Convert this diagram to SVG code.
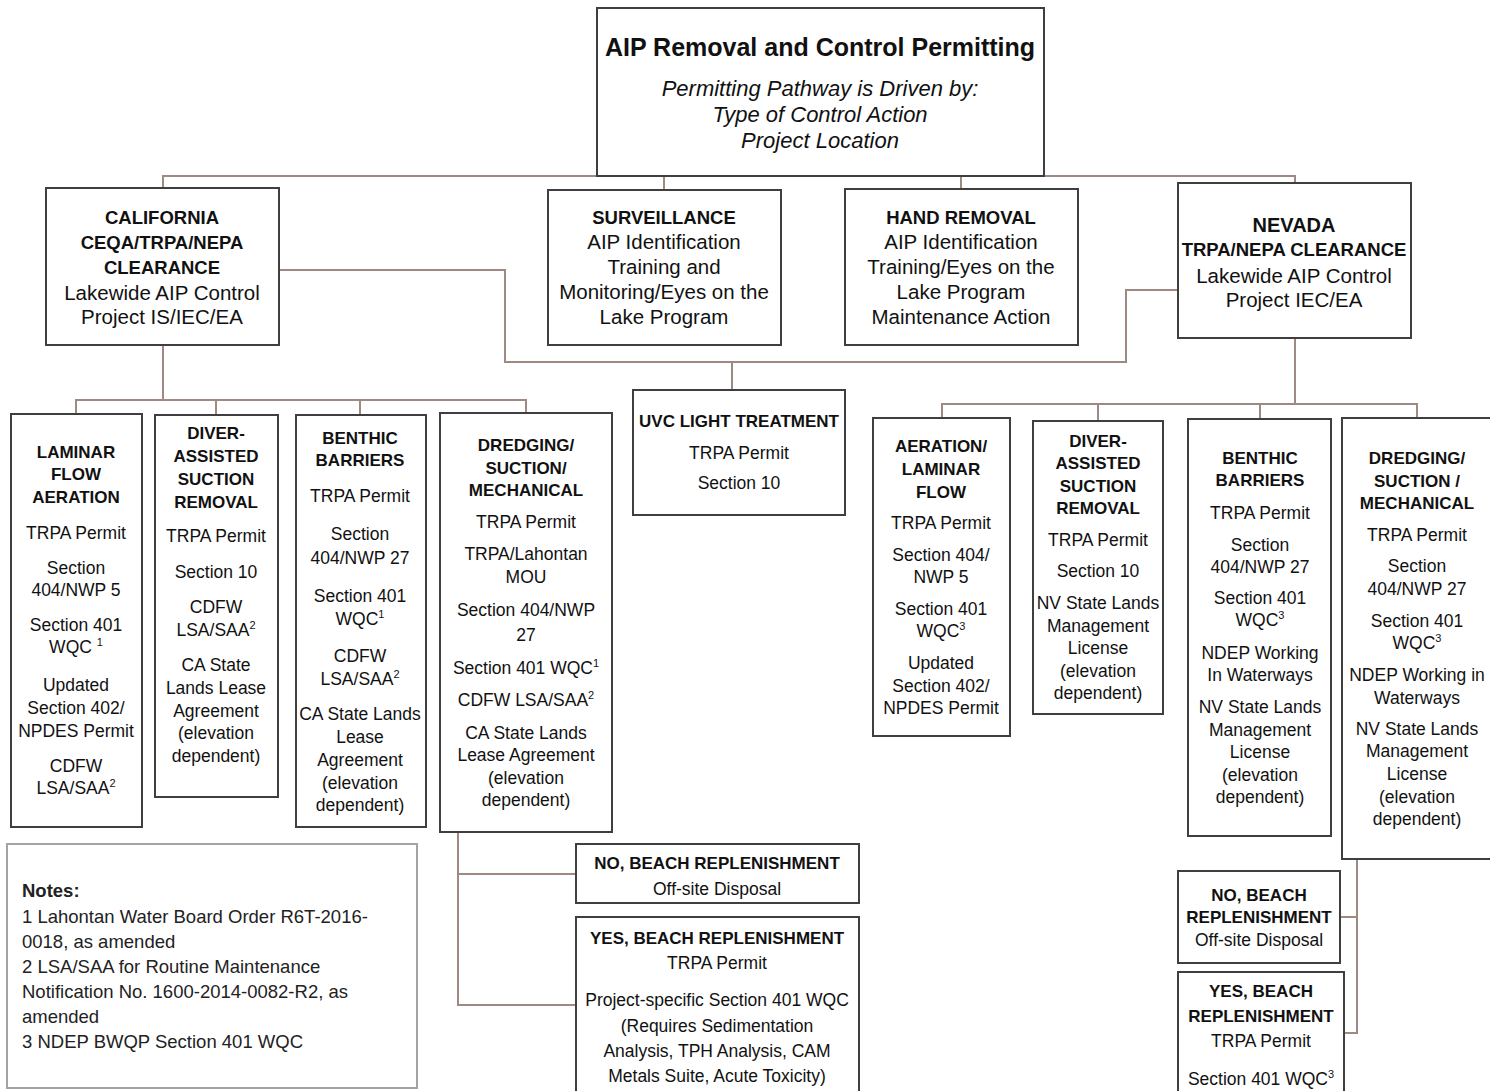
<svg xmlns="http://www.w3.org/2000/svg" width="1490" height="1091" viewBox="0 0 1490 1091">
<style>
.box{fill:#fff;stroke:#3f3f3f;stroke-width:2}
.note{fill:#fff;stroke:#a3a3a3;stroke-width:2}
.conn{fill:none;stroke:#9e8a82;stroke-width:2}
text{font-family:"Liberation Sans",Arial,sans-serif;fill:#111;text-anchor:middle}
.title{font-size:25px;font-weight:bold}
.it{font-size:22px;font-style:italic}
.h2{font-size:18.5px;font-weight:bold}
.t2{font-size:20.5px}
.h3{font-size:17px;font-weight:bold}
.t3{font-size:17.5px}
.n{font-size:18.5px;text-anchor:start;fill:#222}
.sup{font-size:11px}
</style>
<g id="connectors">
<path class="conn" d="M163,189 V176 H1295 V183 M664,176 V190 M961,176 V189"/>
<path class="conn" d="M279,270 H505 V362 H1126 V290 H1178 M732,362 V390"/>
<path class="conn" d="M163,345 V400 M76,414 V400 H526 V413 M216,400 V415 M360,400 V415"/>
<path class="conn" d="M1295,338 V404 M942,418 V404 H1417 V418 M1098,404 V421 M1260,404 V419"/>
<path class="conn" d="M458,832 V1005 H576 M458,874 H576"/>
<path class="conn" d="M1357,859 V1033 H1344 M1357,917 H1340"/>
</g>
<g id="root">
<rect class="box" x="597" y="8" width="447" height="168"/>
<text class="title" x="820" y="56">AIP Removal and Control Permitting</text>
<text class="it" x="820" y="96">Permitting Pathway is Driven by:</text>
<text class="it" x="820" y="122">Type of Control Action</text>
<text class="it" x="820" y="148">Project Location</text>
</g>
<g id="california">
<rect class="box" x="46" y="188" width="233" height="157"/>
<text class="h2" x="162" y="224">CALIFORNIA</text>
<text class="h2" x="162" y="249">CEQA/TRPA/NEPA</text>
<text class="h2" x="162" y="274">CLEARANCE</text>
<text class="t2" x="162" y="300">Lakewide AIP Control</text>
<text class="t2" x="162" y="324">Project IS/IEC/EA</text>
</g>
<g id="surveillance">
<rect class="box" x="548" y="190" width="233" height="155"/>
<text class="h2" x="664" y="224">SURVEILLANCE</text>
<text class="t2" x="664" y="249">AIP Identification</text>
<text class="t2" x="664" y="274">Training and</text>
<text class="t2" x="664" y="299">Monitoring/Eyes on the</text>
<text class="t2" x="664" y="324">Lake Program</text>
</g>
<g id="hand-removal">
<rect class="box" x="845" y="189" width="233" height="156"/>
<text class="h2" x="961" y="224">HAND REMOVAL</text>
<text class="t2" x="961" y="249">AIP Identification</text>
<text class="t2" x="961" y="274">Training/Eyes on the</text>
<text class="t2" x="961" y="299">Lake Program</text>
<text class="t2" x="961" y="324">Maintenance Action</text>
</g>
<g id="nevada">
<rect class="box" x="1178" y="183" width="233" height="155"/>
<text class="h2" x="1294" y="232" style="font-size:20px">NEVADA</text>
<text class="h2" x="1294" y="256">TRPA/NEPA CLEARANCE</text>
<text class="t2" x="1294" y="283">Lakewide AIP Control</text>
<text class="t2" x="1294" y="307">Project IEC/EA</text>
</g>
<g id="uvc">
<rect class="box" x="633" y="390" width="212" height="125"/>
<text class="h3" x="739" y="427">UVC LIGHT TREATMENT</text>
<text class="t3" x="739" y="459">TRPA Permit</text>
<text class="t3" x="739" y="489">Section 10</text>
</g>
<g id="ca-laminar">
<rect class="box" x="11" y="414" width="131" height="413"/>
<text class="h3" x="76" y="458">LAMINAR</text>
<text class="h3" x="76" y="480">FLOW</text>
<text class="h3" x="76" y="503">AERATION</text>
<text class="t3" x="76" y="539">TRPA Permit</text>
<text class="t3" x="76" y="574">Section</text>
<text class="t3" x="76" y="596">404/NWP 5</text>
<text class="t3" x="76" y="631">Section 401</text>
<text class="t3" x="76" y="653">WQC <tspan class="sup" dy="-7">1</tspan></text>
<text class="t3" x="76" y="691">Updated</text>
<text class="t3" x="76" y="714">Section 402/</text>
<text class="t3" x="76" y="737">NPDES Permit</text>
<text class="t3" x="76" y="772">CDFW</text>
<text class="t3" x="76" y="794">LSA/SAA<tspan class="sup" dy="-7">2</tspan></text>
</g>
<g id="ca-diver">
<rect class="box" x="155" y="415" width="123" height="382"/>
<text class="h3" x="216" y="439">DIVER-</text>
<text class="h3" x="216" y="462">ASSISTED</text>
<text class="h3" x="216" y="485">SUCTION</text>
<text class="h3" x="216" y="508">REMOVAL</text>
<text class="t3" x="216" y="542">TRPA Permit</text>
<text class="t3" x="216" y="578">Section 10</text>
<text class="t3" x="216" y="613">CDFW</text>
<text class="t3" x="216" y="636">LSA/SAA<tspan class="sup" dy="-7">2</tspan></text>
<text class="t3" x="216" y="671">CA State</text>
<text class="t3" x="216" y="694">Lands Lease</text>
<text class="t3" x="216" y="717">Agreement</text>
<text class="t3" x="216" y="739">(elevation</text>
<text class="t3" x="216" y="762">dependent)</text>
</g>
<g id="ca-benthic">
<rect class="box" x="296" y="415" width="130" height="412"/>
<text class="h3" x="360" y="444">BENTHIC</text>
<text class="h3" x="360" y="466">BARRIERS</text>
<text class="t3" x="360" y="502">TRPA Permit</text>
<text class="t3" x="360" y="540">Section</text>
<text class="t3" x="360" y="564">404/NWP 27</text>
<text class="t3" x="360" y="602">Section 401</text>
<text class="t3" x="360" y="625">WQC<tspan class="sup" dy="-7">1</tspan></text>
<text class="t3" x="360" y="662">CDFW</text>
<text class="t3" x="360" y="685">LSA/SAA<tspan class="sup" dy="-7">2</tspan></text>
<text class="t3" x="360" y="720">CA State Lands</text>
<text class="t3" x="360" y="743">Lease</text>
<text class="t3" x="360" y="766">Agreement</text>
<text class="t3" x="360" y="789">(elevation</text>
<text class="t3" x="360" y="811">dependent)</text>
</g>
<g id="ca-dredging">
<rect class="box" x="440" y="413" width="172" height="419"/>
<text class="h3" x="526" y="451">DREDGING/</text>
<text class="h3" x="526" y="474">SUCTION/</text>
<text class="h3" x="526" y="496">MECHANICAL</text>
<text class="t3" x="526" y="528">TRPA Permit</text>
<text class="t3" x="526" y="560">TRPA/Lahontan</text>
<text class="t3" x="526" y="583">MOU</text>
<text class="t3" x="526" y="616">Section 404/NWP</text>
<text class="t3" x="526" y="641">27</text>
<text class="t3" x="526" y="674">Section 401 WQC<tspan class="sup" dy="-7">1</tspan></text>
<text class="t3" x="526" y="706">CDFW LSA/SAA<tspan class="sup" dy="-7">2</tspan></text>
<text class="t3" x="526" y="739">CA State Lands</text>
<text class="t3" x="526" y="761">Lease Agreement</text>
<text class="t3" x="526" y="784">(elevation</text>
<text class="t3" x="526" y="806">dependent)</text>
</g>
<g id="nv-aeration">
<rect class="box" x="873" y="418" width="137" height="318"/>
<text class="h3" x="941" y="452">AERATION/</text>
<text class="h3" x="941" y="475">LAMINAR</text>
<text class="h3" x="941" y="498">FLOW</text>
<text class="t3" x="941" y="529">TRPA Permit</text>
<text class="t3" x="941" y="561">Section 404/</text>
<text class="t3" x="941" y="583">NWP 5</text>
<text class="t3" x="941" y="615">Section 401</text>
<text class="t3" x="941" y="637">WQC<tspan class="sup" dy="-7">3</tspan></text>
<text class="t3" x="941" y="669">Updated</text>
<text class="t3" x="941" y="692">Section 402/</text>
<text class="t3" x="941" y="714">NPDES Permit</text>
</g>
<g id="nv-diver">
<rect class="box" x="1033" y="421" width="130" height="293"/>
<text class="h3" x="1098" y="447">DIVER-</text>
<text class="h3" x="1098" y="469">ASSISTED</text>
<text class="h3" x="1098" y="492">SUCTION</text>
<text class="h3" x="1098" y="514">REMOVAL</text>
<text class="t3" x="1098" y="546">TRPA Permit</text>
<text class="t3" x="1098" y="577">Section 10</text>
<text class="t3" x="1098" y="609">NV State Lands</text>
<text class="t3" x="1098" y="632">Management</text>
<text class="t3" x="1098" y="654">License</text>
<text class="t3" x="1098" y="677">(elevation</text>
<text class="t3" x="1098" y="699">dependent)</text>
</g>
<g id="nv-benthic">
<rect class="box" x="1188" y="419" width="143" height="417"/>
<text class="h3" x="1260" y="464">BENTHIC</text>
<text class="h3" x="1260" y="486">BARRIERS</text>
<text class="t3" x="1260" y="519">TRPA Permit</text>
<text class="t3" x="1260" y="551">Section</text>
<text class="t3" x="1260" y="573">404/NWP 27</text>
<text class="t3" x="1260" y="604">Section 401</text>
<text class="t3" x="1260" y="626">WQC<tspan class="sup" dy="-7">3</tspan></text>
<text class="t3" x="1260" y="659">NDEP Working</text>
<text class="t3" x="1260" y="681">In Waterways</text>
<text class="t3" x="1260" y="713">NV State Lands</text>
<text class="t3" x="1260" y="736">Management</text>
<text class="t3" x="1260" y="758">License</text>
<text class="t3" x="1260" y="781">(elevation</text>
<text class="t3" x="1260" y="803">dependent)</text>
</g>
<g id="nv-dredging">
<rect class="box" x="1342" y="418" width="150" height="441"/>
<text class="h3" x="1417" y="464">DREDGING/</text>
<text class="h3" x="1417" y="487">SUCTION /</text>
<text class="h3" x="1417" y="509">MECHANICAL</text>
<text class="t3" x="1417" y="541">TRPA Permit</text>
<text class="t3" x="1417" y="572">Section</text>
<text class="t3" x="1417" y="595">404/NWP 27</text>
<text class="t3" x="1417" y="627">Section 401</text>
<text class="t3" x="1417" y="649">WQC<tspan class="sup" dy="-7">3</tspan></text>
<text class="t3" x="1417" y="681">NDEP Working in</text>
<text class="t3" x="1417" y="704">Waterways</text>
<text class="t3" x="1417" y="735">NV State Lands</text>
<text class="t3" x="1417" y="757">Management</text>
<text class="t3" x="1417" y="780">License</text>
<text class="t3" x="1417" y="803">(elevation</text>
<text class="t3" x="1417" y="825">dependent)</text>
</g>
<g id="ca-no-beach">
<rect class="box" x="576" y="844" width="283" height="59"/>
<text class="h3" x="717" y="869">NO, BEACH REPLENISHMENT</text>
<text class="t3" x="717" y="895">Off-site Disposal</text>
</g>
<g id="ca-yes-beach">
<rect class="box" x="576" y="917" width="283" height="190"/>
<text class="h3" x="717" y="944">YES, BEACH REPLENISHMENT</text>
<text class="t3" x="717" y="969">TRPA Permit</text>
<text class="t3" x="717" y="1006">Project-specific Section 401 WQC</text>
<text class="t3" x="717" y="1032">(Requires Sedimentation</text>
<text class="t3" x="717" y="1057">Analysis, TPH Analysis, CAM</text>
<text class="t3" x="717" y="1082">Metals Suite, Acute Toxicity)</text>
</g>
<g id="nv-no-beach">
<rect class="box" x="1178" y="871" width="162" height="92"/>
<text class="h3" x="1259" y="901">NO, BEACH</text>
<text class="h3" x="1259" y="923">REPLENISHMENT</text>
<text class="t3" x="1259" y="946">Off-site Disposal</text>
</g>
<g id="nv-yes-beach">
<rect class="box" x="1178" y="972" width="166" height="140"/>
<text class="h3" x="1261" y="997">YES, BEACH</text>
<text class="h3" x="1261" y="1022">REPLENISHMENT</text>
<text class="t3" x="1261" y="1047">TRPA Permit</text>
<text class="t3" x="1261" y="1085">Section 401 WQC<tspan class="sup" dy="-7">3</tspan></text>
</g>
<g id="notes">
<rect class="note" x="7" y="844" width="410" height="244"/>
<text class="n" x="22" y="897" style="font-weight:bold">Notes:</text>
<text class="n" x="22" y="923">1 Lahontan Water Board Order R6T-2016-</text>
<text class="n" x="22" y="948">0018, as amended</text>
<text class="n" x="22" y="973">2 LSA/SAA for Routine Maintenance</text>
<text class="n" x="22" y="998">Notification No. 1600-2014-0082-R2, as</text>
<text class="n" x="22" y="1023">amended</text>
<text class="n" x="22" y="1048">3 NDEP BWQP Section 401 WQC</text>
</g>
</svg>
